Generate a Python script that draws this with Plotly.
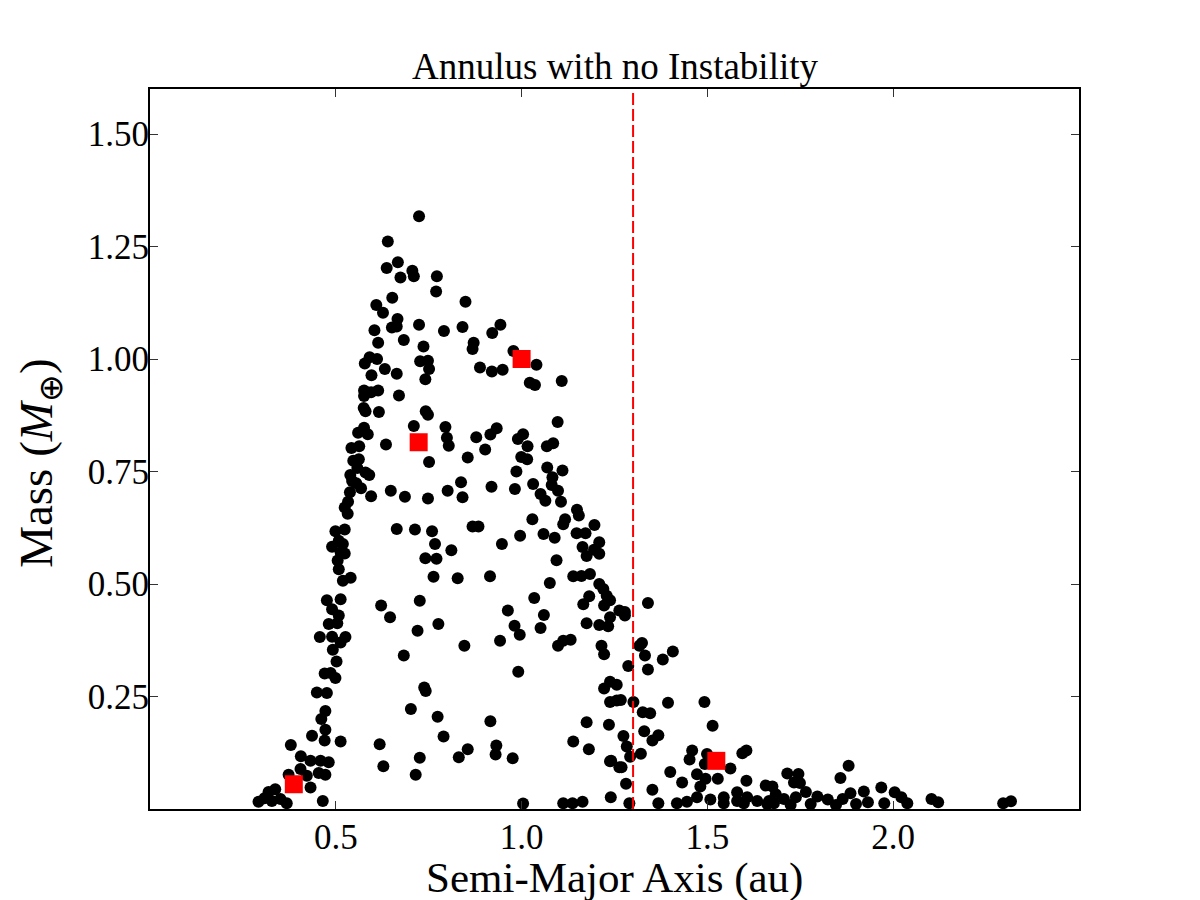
import plotly.graph_objects as go

# Simulated planets: semi-major axis (au) and mass (Earth masses)
semi_major_axis = [
    0.724, 0.640, 0.667, 0.637, 0.706, 0.674, 0.710, 0.772, 0.770, 0.652,
    0.609, 0.627, 0.666, 0.651, 0.664, 0.724, 0.791, 0.604, 0.683, 0.614,
    0.736, 0.591, 0.611, 0.578, 0.632, 0.727, 0.748, 0.751, 0.664, 0.596,
    0.741, 0.576, 0.614, 0.576, 0.595, 0.670, 0.575, 0.580, 0.616, 0.742,
    0.748, 0.710, 0.795, 0.576, 0.560, 0.586, 0.799, 0.804, 0.635, 0.542,
    0.563, 0.751, 0.547, 0.562, 0.558, 0.580, 0.590, 0.539, 0.544, 0.555,
    0.648, 0.686, 0.748, 0.595, 0.568, 0.538, 0.533, 0.524, 0.532, 0.801,
    0.499, 0.524, 0.508, 0.490, 0.519, 0.513, 0.524, 0.505, 0.508, 0.519,
    0.540, 0.664, 0.713, 0.759, 0.767, 0.811, 0.741, 0.771, 0.763, 0.476,
    0.513, 0.490, 0.508, 0.481, 0.504, 0.457, 0.490, 0.526, 0.513, 0.492,
    0.502, 0.470, 0.486, 0.499, 0.449, 0.476, 0.472, 0.461, 0.472, 0.436,
    0.470, 0.513, 0.379, 0.406, 0.432, 0.459, 0.481, 0.405, 0.454, 0.472,
    0.422, 0.373, 0.432, 0.337, 0.319, 0.351, 0.368, 0.328, 0.465, 0.292,
    0.308, 0.622, 0.646, 0.726, 0.776, 0.720, 0.683, 0.738, 0.742, 0.702,
    0.774, 0.790, 0.618, 0.726, 0.628, 0.715, 0.849, 0.841, 0.943, 0.921,
    0.871, 0.868, 0.978, 1.040, 0.888, 0.920, 0.949, 1.022, 1.036, 1.108,
    1.097, 0.878, 0.933, 0.916, 1.004, 0.990, 1.016, 0.902, 1.085, 1.068,
    0.855, 0.999, 1.015, 1.069, 1.110, 0.986, 0.837, 0.841, 0.919, 0.982,
    1.031, 1.083, 1.081, 1.098, 1.051, 1.064, 1.106, 1.149, 1.154, 1.029,
    1.117, 0.868, 0.884, 1.112, 1.196, 0.996, 1.059, 1.089, 1.148, 1.172,
    1.209, 0.947, 1.164, 1.175, 1.195, 1.209, 1.094, 0.828, 0.915, 1.076,
    1.139, 1.161, 1.184, 1.209, 1.220, 1.229, 1.238, 1.182, 1.166, 1.222,
    1.034, 0.963, 1.060, 1.263, 0.981, 1.051, 1.175, 1.209, 1.233, 1.238,
    0.995, 0.942, 1.098, 1.112, 1.132, 0.846, 1.215, 1.222, 0.991, 1.222,
    1.238, 1.256, 1.238, 1.256, 0.916, 1.175, 1.235, 0.855, 0.831, 0.932,
    0.930, 0.976, 1.139, 1.181, 1.238, 1.263, 1.004, 1.112, 1.137, 1.164,
    1.240, 1.278, 1.278, 1.340, 1.324, 1.317, 1.332, 1.380, 1.407, 1.287,
    1.340, 1.267, 1.301, 1.394, 1.492, 1.326, 1.346, 1.514, 1.274, 1.330,
    1.368, 1.352, 1.283, 1.292, 1.321, 1.241, 1.269, 1.459, 1.452, 1.499,
    1.493, 1.594, 1.605, 1.562, 1.400, 1.472, 1.495, 1.528, 1.432, 1.605,
    1.481, 1.281, 1.352, 1.580, 1.657, 1.675, 1.684, 1.290, 1.368, 1.418,
    1.445, 1.472, 1.508, 1.544, 1.544, 1.580, 1.607, 1.598, 1.634, 1.666,
    1.679, 1.880, 1.858, 1.715, 1.745, 1.733, 1.749, 1.765, 1.885, 1.921,
    1.968, 2.004, 2.022, 2.103, 1.796, 1.738, 1.706, 1.824, 1.864, 1.932,
    1.976, 2.038, 1.661, 1.778, 1.900, 2.121, 1.846, 1.724, 2.296, 2.317,
]
mass = [
    1.317, 1.261, 1.215, 1.202, 1.196, 1.181, 1.184, 1.184, 1.150, 1.136,
    1.120, 1.103, 1.089, 1.070, 1.072, 1.076, 1.062, 1.064, 1.042, 1.036,
    1.028, 1.004, 1.000, 0.990, 0.978, 0.995, 0.996, 0.978, 0.967, 0.964,
    0.955, 0.930, 0.930, 0.918, 0.926, 0.919, 0.891, 0.884, 0.882, 0.884,
    0.876, 0.851, 0.849, 0.847, 0.836, 0.833, 0.825, 0.807, 0.810, 0.802,
    0.806, 0.771, 0.774, 0.777, 0.758, 0.748, 0.742, 0.742, 0.729, 0.724,
    0.707, 0.694, 0.690, 0.695, 0.713, 0.704, 0.683, 0.670, 0.656, 0.707,
    0.617, 0.621, 0.596, 0.583, 0.589, 0.570, 0.568, 0.552, 0.533, 0.507,
    0.514, 0.622, 0.621, 0.617, 0.589, 0.575, 0.557, 0.556, 0.516, 0.464,
    0.466, 0.444, 0.430, 0.411, 0.413, 0.382, 0.383, 0.382, 0.370, 0.354,
    0.328, 0.301, 0.302, 0.291, 0.259, 0.258, 0.218, 0.200, 0.176, 0.163,
    0.152, 0.150, 0.142, 0.117, 0.107, 0.107, 0.104, 0.089, 0.080, 0.076,
    0.074, 0.076, 0.048, 0.044, 0.038, 0.022, 0.013, 0.018, 0.018, 0.016,
    0.024, 0.452, 0.426, 0.463, 0.411, 0.396, 0.341, 0.270, 0.262, 0.222,
    0.205, 0.161, 0.144, 0.114, 0.095, 0.076, 1.127, 1.071, 1.076, 1.058,
    1.036, 1.022, 1.018, 0.987, 0.981, 0.972, 0.976, 0.947, 0.942, 0.951,
    0.860, 0.826, 0.846, 0.832, 0.833, 0.822, 0.806, 0.799, 0.813, 0.806,
    0.781, 0.782, 0.777, 0.759, 0.752, 0.750, 0.726, 0.693, 0.716, 0.711,
    0.722, 0.737, 0.720, 0.707, 0.700, 0.685, 0.683, 0.665, 0.652, 0.644,
    0.644, 0.628, 0.628, 0.633, 0.631, 0.607, 0.611, 0.603, 0.613, 0.613,
    0.593, 0.589, 0.582, 0.562, 0.576, 0.567, 0.553, 0.513, 0.517, 0.502,
    0.517, 0.518, 0.522, 0.500, 0.489, 0.474, 0.464, 0.473, 0.455, 0.452,
    0.469, 0.441, 0.431, 0.441, 0.407, 0.402, 0.413, 0.409, 0.406, 0.426,
    0.387, 0.374, 0.363, 0.374, 0.376, 0.363, 0.363, 0.344, 0.305, 0.268,
    0.283, 0.276, 0.238, 0.241, 0.195, 0.193, 0.187, 0.133, 0.115, 0.141,
    0.121, 0.113, 0.150, 0.133, 0.106, 0.093, 0.012, 0.013, 0.013, 0.016,
    0.026, 0.438, 0.430, 0.458, 0.369, 0.363, 0.341, 0.332, 0.350, 0.318,
    0.310, 0.242, 0.238, 0.236, 0.238, 0.215, 0.213, 0.185, 0.162, 0.173,
    0.164, 0.152, 0.139, 0.116, 0.123, 0.107, 0.093, 0.130, 0.110, 0.122,
    0.100, 0.124, 0.130, 0.090, 0.082, 0.077, 0.067, 0.067, 0.059, 0.063,
    0.050, 0.056, 0.043, 0.037, 0.052, 0.050, 0.033, 0.013, 0.013, 0.013,
    0.016, 0.026, 0.021, 0.026, 0.013, 0.018, 0.026, 0.013, 0.018, 0.018,
    0.013, 0.096, 0.069, 0.079, 0.078, 0.059, 0.058, 0.038, 0.035, 0.039,
    0.048, 0.037, 0.026, 0.022, 0.028, 0.026, 0.022, 0.021, 0.022, 0.015,
    0.013, 0.013, 0.011, 0.011, 0.011, 0.015, 0.009, 0.009, 0.013, 0.017,
]

# Solar-system terrestrial planets
planet_a = [0.387, 0.723, 1.000, 1.524]
planet_m = [0.055, 0.815, 1.000, 0.107]

# Annulus edge
edge_a = [1.3, 1.3]
edge_m = [0.0, 1.6]

x_ticks = [0.5, 1.0, 1.5, 2.0]
x_labels = ["0.5", "1.0", "1.5", "2.0"]
y_ticks = [0.25, 0.50, 0.75, 1.00, 1.25, 1.50]
y_labels = ["0.25", "0.50", "0.75", "1.00", "1.25", "1.50"]

FONT = "Liberation Serif"

fig = go.Figure()
fig.add_trace(go.Scatter(
    x=semi_major_axis, y=mass, mode="markers",
    marker=dict(color="black", size=12, line=dict(width=0)),
    showlegend=False, hoverinfo="x+y",
))
fig.add_trace(go.Scatter(
    x=planet_a, y=planet_m, mode="markers",
    marker=dict(color="#ff0000", size=18, symbol="square", line=dict(width=0)),
    showlegend=False,
))
fig.add_trace(go.Scatter(
    x=edge_a, y=edge_m, mode="lines",
    line=dict(color="#ff0000", width=2, dash="12px,4px"),
    showlegend=False, hoverinfo="skip",
))

axis_common = dict(
    showgrid=False, zeroline=False, showline=True, linecolor="black",
    linewidth=2, mirror="allticks", ticks="inside", ticklen=8,
    tickwidth=1, tickcolor="#333",
    tickfont=dict(family=FONT, size=35, color="black"),
)

fig.update_layout(
    width=1200, height=900,
    margin=dict(l=150, r=121, t=89, b=91),
    paper_bgcolor="white", plot_bgcolor="white",
    font=dict(family=FONT, color="black"),
    xaxis=dict(range=[0, 2.5], tickvals=x_ticks, ticktext=x_labels,
               ticklabelstandoff=-4, **axis_common),
    yaxis=dict(range=[0, 1.6], tickvals=y_ticks, ticktext=y_labels,
               ticklabelstandoff=-8, **axis_common),
    annotations=[
        dict(text="Annulus with no Instability", xref="paper", yref="paper",
             x=0.5, y=1.031, xanchor="center", yanchor="middle", showarrow=False,
             font=dict(family=FONT, size=37, color="black")),
        dict(text="Semi-Major Axis (au)", xref="paper", yref="paper",
             x=0.5, y=-0.0963, xanchor="center", yanchor="middle", showarrow=False,
             font=dict(family=FONT, size=43, color="black")),
        dict(text="Mass (<i>M</i><sub>⊕</sub>)", xref="paper", yref="paper",
             x=-0.119, y=0.48, xanchor="center", yanchor="middle", showarrow=False,
             textangle=-90,
             font=dict(family=FONT, size=47, color="black")),
    ],
)

fig.write_html("out.html")
